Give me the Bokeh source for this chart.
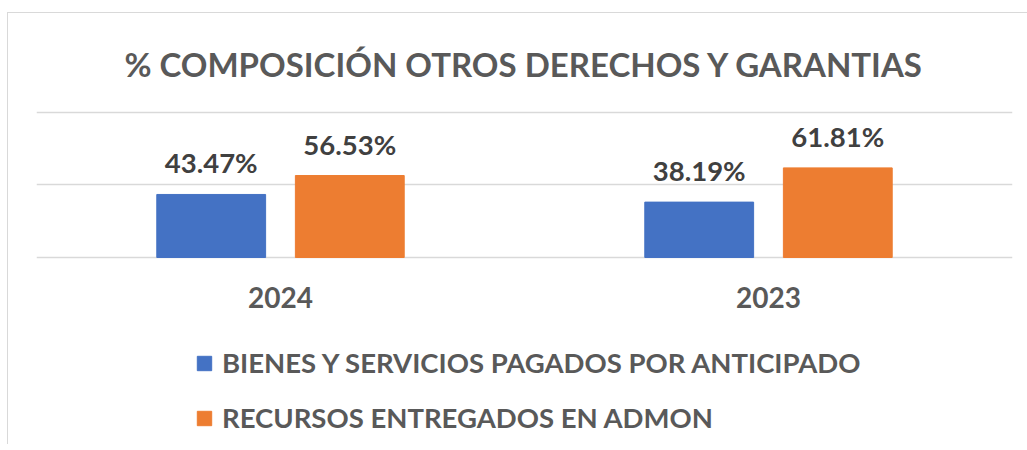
from bokeh.plotting import figure
from bokeh.models import ColumnDataSource, LabelSet, Legend, LegendItem, FactorRange, FixedTicker
from bokeh.core.properties import value
from bokeh.transform import dodge
from bokeh.embed import file_html
from bokeh.resources import INLINE

years = ["2024", "2023"]
bienes = [0.4347, 0.3819]
recursos = [0.5653, 0.6181]
series_names = ["BIENES Y SERVICIOS PAGADOS POR ANTICIPADO", "RECURSOS ENTREGADOS EN ADMON"]
title_text = "% COMPOSICIÓN OTROS DERECHOS Y GARANTIAS"

FONT = "Lato"
BLUE = "#4472C4"
ORANGE = "#ED7D31"

src = ColumnDataSource(dict(
    years=years,
    bienes=bienes,
    recursos=recursos,
    bienes_lbl=[f"{v*100:.2f}%" for v in bienes],
    recursos_lbl=[f"{v*100:.2f}%" for v in recursos],
))

# frame extends below the baseline so the legend can sit inside it
p = figure(x_range=FactorRange(*years), y_range=(-1.2897, 1.0138),
           frame_width=976, frame_height=334, output_backend="svg", toolbar_location=None,
           y_axis_location=None, min_border_left=28, min_border_right=15,
           min_border_top=97, min_border_bottom=0)
p.styles = {"border-left": "1px solid #d9d9d9", "border-top": "1px solid #d9d9d9",
            "margin-left": "7px", "margin-top": "12px"}
p.outline_line_color = None

p.title.text = title_text
p.title.align = "center"
p.title.text_font = FONT
p.title.text_font_style = "bold"
p.title.text_font_size = "33px"
p.title.text_color = "#595959"
p.title.standoff = 54

r1 = p.vbar(x=dodge("years", -0.142, range=p.x_range), top="bienes", width=0.223,
            source=src, color=BLUE)
r2 = p.vbar(x=dodge("years", 0.142, range=p.x_range), top="recursos", width=0.223,
            source=src, color=ORANGE)

for col, lbl, off in [("bienes", "bienes_lbl", -0.142), ("recursos", "recursos_lbl", 0.142)]:
    ls = LabelSet(x=dodge("years", off, range=p.x_range), y=col, text=lbl, source=src,
                  text_align="center", text_baseline="alphabetic", y_offset=21,
                  text_font=value(FONT), text_font_style="bold", text_font_size="27.5px",
                  text_color="#404040")
    p.add_layout(ls)

p.xgrid.grid_line_color = None
p.ygrid.grid_line_color = "#d9d9d9"
p.ygrid.grid_line_width = 1.5
p.ygrid[0].ticker = FixedTicker(ticks=[0, 0.5, 1.0])

p.xaxis.fixed_location = 0
p.xaxis.axis_line_color = None
p.xaxis.major_tick_line_color = None
p.xaxis.minor_tick_line_color = None
p.xaxis.major_label_standoff = 24
p.xaxis.major_label_text_font = FONT
p.xaxis.major_label_text_font_style = "bold"
p.xaxis.major_label_text_font_size = "28px"
p.xaxis.major_label_text_color = "#595959"

legend = Legend(items=[LegendItem(label=series_names[0], renderers=[r1]),
                       LegendItem(label=series_names[1], renderers=[r2])],
                orientation="vertical", location=(159, 10))
legend.label_text_font = FONT
legend.label_text_font_style = "bold"
legend.label_text_font_size = "27.5px"
legend.label_text_color = "#595959"
legend.glyph_width = 18
legend.glyph_height = 18
legend.label_standoff = 9
legend.spacing = 22
legend.padding = 0
legend.margin = 0
legend.border_line_color = None
legend.background_fill_alpha = 0
p.add_layout(legend)

open("out.html", "w").write(file_html(p, INLINE))
